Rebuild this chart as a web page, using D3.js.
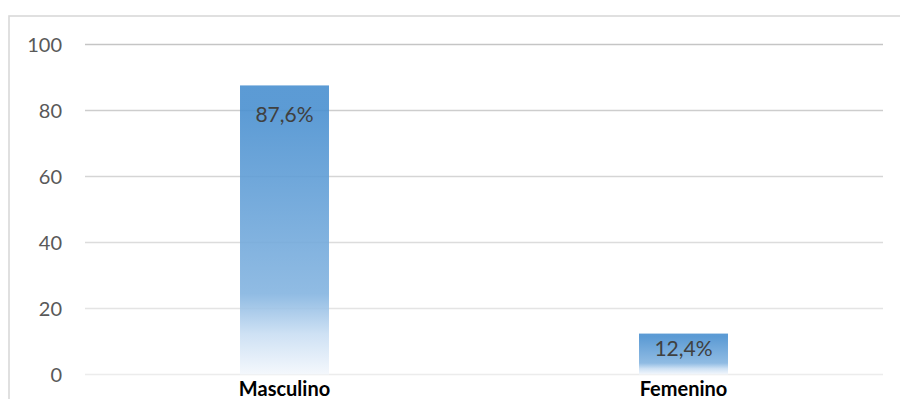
<!DOCTYPE html>
<html>
<head>
<meta charset="utf-8">
<script src="https://cdn.jsdelivr.net/npm/d3@7"></script>
<style>
  html, body { margin: 0; padding: 0; background: #fff; }
  svg { display: block; }
</style>
</head>
<body>
<svg id="chart" width="900" height="399"></svg>
<script>
// Distribución por sexo (porcentaje)
const categories = ["Masculino", "Femenino"];
const values = [87.6, 12.4];
const valueLabels = ["87,6%", "12,4%"];
const yTicks = [0, 20, 40, 60, 80, 100];

const W = 900, H = 399;
const margin = { left: 85, right: 17, top: 44.5, bottom: 24.5 };
const font = "Lato, 'Open Sans', sans-serif";

const svg = d3.select("#chart");

// outer chart frame (continues past the right and bottom edges)
svg.append("rect")
  .attr("x", 9).attr("y", 16)
  .attr("width", 920).attr("height", 420)
  .attr("fill", "#fff")
  .attr("stroke", "#d9d9d9")
  .attr("stroke-width", 1.6);

const x = d3.scaleBand()
  .domain(categories)
  .range([margin.left, W - margin.right])
  .padding(0);

const y = d3.scaleLinear()
  .domain([0, 100])
  .range([H - margin.bottom, margin.top]);

const barW = x.bandwidth() * 0.223;

// bar fill: blue at the top fading to white at the base
const defs = svg.append("defs");
const grad = defs.append("linearGradient")
  .attr("id", "barFill")
  .attr("x1", 0).attr("y1", 0).attr("x2", 0).attr("y2", 1);
[
  [0.00, "#4a90d0"],
  [0.08, "#4a90d0"],
  [0.72, "#84b4e0"],
  [0.86, "#c9def3"],
  [1.00, "#f3f7fc"]
].forEach(([o, c]) => grad.append("stop").attr("offset", o).attr("stop-color", c));

// horizontal gridlines, slightly stronger toward the top
const gridColor = d3.interpolateRgb("#ececec", "#c5c5c5");
svg.append("g")
  .selectAll("line")
  .data(yTicks)
  .join("line")
  .attr("x1", margin.left).attr("x2", W - margin.right)
  .attr("y1", d => y(d)).attr("y2", d => y(d))
  .attr("stroke", d => gridColor(d / 100))
  .attr("stroke-width", 1.5);

// y axis labels
const yAxis = d3.axisLeft(y).tickValues(yTicks).tickSize(0).tickPadding(0);
const gy = svg.append("g")
  .attr("transform", `translate(62,0)`)
  .call(yAxis);
gy.select(".domain").remove();
gy.selectAll("text")
  .attr("font-family", font)
  .attr("font-size", 20)
  .attr("fill", "#595959")
  .attr("dy", "0.36em");

// bars
svg.append("g")
  .selectAll("rect")
  .data(values)
  .join("rect")
  .attr("x", (d, i) => x(categories[i]) + (x.bandwidth() - barW) / 2)
  .attr("y", d => y(d))
  .attr("width", barW)
  .attr("height", d => y(0) - y(d))
  .attr("fill", "url(#barFill)")
  .attr("fill-opacity", 0.9);

// value labels inside the top of each bar
svg.append("g")
  .selectAll("text")
  .data(values)
  .join("text")
  .attr("x", (d, i) => x(categories[i]) + x.bandwidth() / 2)
  .attr("y", d => y(d) + Math.min(36.5, (y(0) - y(d)) * 0.55))
  .attr("text-anchor", "middle")
  .attr("font-family", font)
  .attr("font-size", 21)
  .attr("fill", "#404040")
  .text((d, i) => valueLabels[i]);

// category labels
const xAxis = d3.axisBottom(x).tickSize(0).tickPadding(0);
const gx = svg.append("g")
  .attr("transform", `translate(0,396)`)
  .call(xAxis);
gx.select(".domain").remove();
gx.selectAll("text")
  .attr("dy", 0)
  .attr("font-family", font)
  .attr("font-size", 20)
  .attr("font-weight", "bold")
  .attr("fill", "#000");
</script>
</body>
</html>
